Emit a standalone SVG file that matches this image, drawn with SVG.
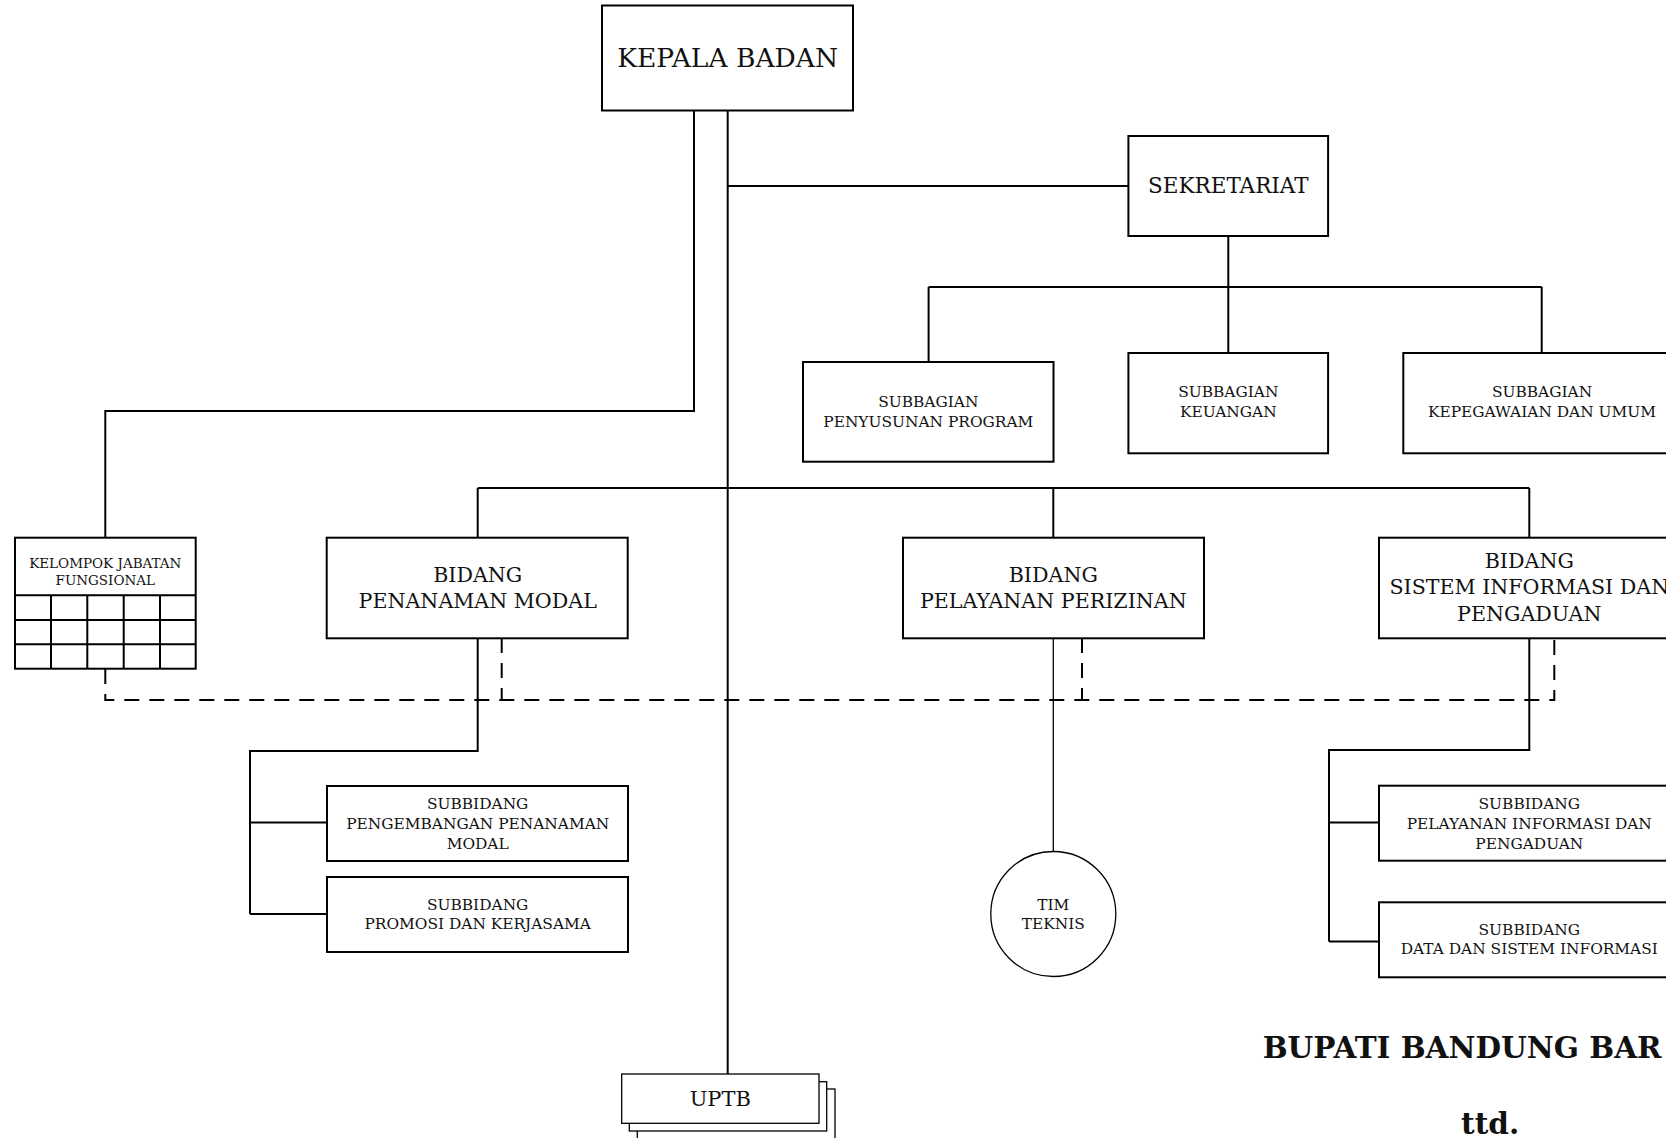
<svg xmlns="http://www.w3.org/2000/svg" width="1666" height="1138" viewBox="0 0 1666 1138">
  <style>
    .box { fill: #fff; stroke: #000; stroke-width: 2; }
    .thin { fill: #fff; stroke: #000; stroke-width: 1.3; }
    .ln { fill: none; stroke: #000; stroke-width: 2; }
    .tl { fill: none; stroke: #000; stroke-width: 1.3; }
    .dash { fill: none; stroke: #000; stroke-width: 2; stroke-dasharray: 15 10; }
    text { font-family: "DejaVu Serif", "Liberation Serif", serif; fill: #111; text-anchor: middle; }
    .xl { font-size: 26.5px; }
    .lg { font-size: 20.6px; }
    .md { font-size: 21.5px; }
    .up { font-size: 21px; }
    .sm { font-size: 15.4px; }
    .xs { font-size: 13.5px; }
    .sig { font-size: 29.5px; font-weight: bold; text-anchor: start; }
  </style>
  <rect width="1666" height="1138" fill="#fff"/>

  <!-- connectors -->
  <g id="connectors">
    <!-- main trunk from head down to UPTB -->
    <path class="ln" d="M727.7 111 V1074"/>
    <!-- head to functional group -->
    <path class="ln" d="M694 111 V411 H105.3 V538"/>
    <!-- head to secretariat -->
    <path class="ln" d="M727.7 186 H1128"/>
    <!-- secretariat to sub-sections -->
    <path class="ln" d="M1228.3 236 V287 M928.6 287 H1541.7 M928.6 287 V362 M1228.3 287 V353 M1541.7 287 V353"/>
    <!-- bidang bus -->
    <path class="ln" d="M477.7 488 H1529.3 M477.7 488 V538 M1053.3 488 V538 M1529.3 488 V538"/>
    <!-- penanaman modal subtree -->
    <path class="ln" d="M477.7 638 V751 H250 V914 M250 822.5 H327 M250 914 H327"/>
    <!-- sistem informasi subtree -->
    <path class="ln" d="M1529.3 638 V750 H1329 V941.5 M1329 822.5 H1379 M1329 941.5 H1379"/>
    <!-- perizinan to tim teknis -->
    <path class="tl" d="M1053.3 638 V851.5"/>
    <!-- coordination (dashed) -->
    <path class="dash" d="M105.3 669 V700 H1554.3 V638"/>
    <path class="dash" d="M501.7 638 V700"/>
    <path class="dash" d="M1082 638 V700"/>
  </g>

  <g id="kepala-badan">
    <rect class="box" x="602" y="5.5" width="251" height="105"/>
    <text class="xl" x="727.7" y="66.7">KEPALA BADAN</text>
  </g>

  <g id="sekretariat">
    <rect class="box" x="1128.4" y="136" width="199.7" height="100"/>
    <text class="md" x="1228.3" y="193">SEKRETARIAT</text>
  </g>

  <g id="subbagian-penyusunan-program">
    <rect class="box" x="803" y="362" width="250.5" height="99.7"/>
    <text class="sm" x="928.3" y="406.7">SUBBAGIAN</text>
    <text class="sm" x="928.3" y="427.3">PENYUSUNAN PROGRAM</text>
  </g>

  <g id="subbagian-keuangan">
    <rect class="box" x="1128.4" y="353" width="199.7" height="100.3"/>
    <text class="sm" x="1228.3" y="396.7">SUBBAGIAN</text>
    <text class="sm" x="1228.3" y="417.3">KEUANGAN</text>
  </g>

  <g id="subbagian-kepegawaian">
    <rect class="box" x="1403.3" y="353" width="278" height="100.3"/>
    <text class="sm" x="1542" y="396.7">SUBBAGIAN</text>
    <text class="sm" x="1542" y="417.3">KEPEGAWAIAN DAN UMUM</text>
  </g>

  <g id="kelompok-jabatan-fungsional">
    <rect class="box" x="15" y="537.7" width="180.7" height="131"/>
    <path class="ln" d="M15 595.3 H195.7 M15 620 H195.7 M15 644.3 H195.7 M51 595.3 V668.7 M87.3 595.3 V668.7 M123.7 595.3 V668.7 M160 595.3 V668.7"/>
    <text class="xs" x="105.3" y="567.7">KELOMPOK JABATAN</text>
    <text class="xs" x="105.3" y="585">FUNGSIONAL</text>
  </g>

  <g id="bidang-penanaman-modal">
    <rect class="box" x="326.7" y="537.7" width="301" height="100.6"/>
    <text class="lg" x="477.7" y="582.3">BIDANG</text>
    <text class="lg" x="477.7" y="608.3">PENANAMAN MODAL</text>
  </g>

  <g id="bidang-pelayanan-perizinan">
    <rect class="box" x="903" y="537.7" width="301" height="100.6"/>
    <text class="lg" x="1053.3" y="582.3">BIDANG</text>
    <text class="lg" x="1053.3" y="608.3">PELAYANAN PERIZINAN</text>
  </g>

  <g id="bidang-sistem-informasi">
    <rect class="box" x="1379" y="537.7" width="301" height="100.6"/>
    <text class="lg" x="1529.3" y="567.7">BIDANG</text>
    <text class="lg" x="1529.3" y="594">SISTEM INFORMASI DAN</text>
    <text class="lg" x="1529.3" y="620.7">PENGADUAN</text>
  </g>

  <g id="subbidang-pengembangan">
    <rect class="box" x="327" y="786" width="301" height="75"/>
    <text class="sm" x="477.7" y="809.3">SUBBIDANG</text>
    <text class="sm" x="477.7" y="829">PENGEMBANGAN PENANAMAN</text>
    <text class="sm" x="477.7" y="848.5">MODAL</text>
  </g>

  <g id="subbidang-promosi">
    <rect class="box" x="327" y="877" width="301" height="75"/>
    <text class="sm" x="477.7" y="910">SUBBIDANG</text>
    <text class="sm" x="477.7" y="929.3">PROMOSI DAN KERJASAMA</text>
  </g>

  <g id="subbidang-pelayanan-informasi">
    <rect class="box" x="1379" y="785.7" width="301" height="75"/>
    <text class="sm" x="1529.3" y="809.3">SUBBIDANG</text>
    <text class="sm" x="1529.3" y="829">PELAYANAN INFORMASI DAN</text>
    <text class="sm" x="1529.3" y="848.5">PENGADUAN</text>
  </g>

  <g id="subbidang-data">
    <rect class="box" x="1379" y="902.3" width="301" height="75"/>
    <text class="sm" x="1529.3" y="935">SUBBIDANG</text>
    <text class="sm" x="1529.3" y="954.3">DATA DAN SISTEM INFORMASI</text>
  </g>

  <g id="tim-teknis">
    <circle class="thin" cx="1053.3" cy="914" r="62.5"/>
    <text class="sm" x="1053.3" y="910">TIM</text>
    <text class="sm" x="1053.3" y="929.3">TEKNIS</text>
  </g>

  <g id="uptb">
    <rect class="thin" x="637.3" y="1089" width="197.7" height="60"/>
    <rect class="thin" x="629.3" y="1081.7" width="197.4" height="49.3"/>
    <rect class="thin" x="621.7" y="1074" width="197.3" height="49.3"/>
    <text class="up" x="720.3" y="1106">UPTB</text>
  </g>

  <g id="signature">
    <text class="sig" x="1262.7" y="1058.3">BUPATI BANDUNG BAR</text>
    <text class="sig" x="1461" y="1134">ttd.</text>
  </g>
</svg>
